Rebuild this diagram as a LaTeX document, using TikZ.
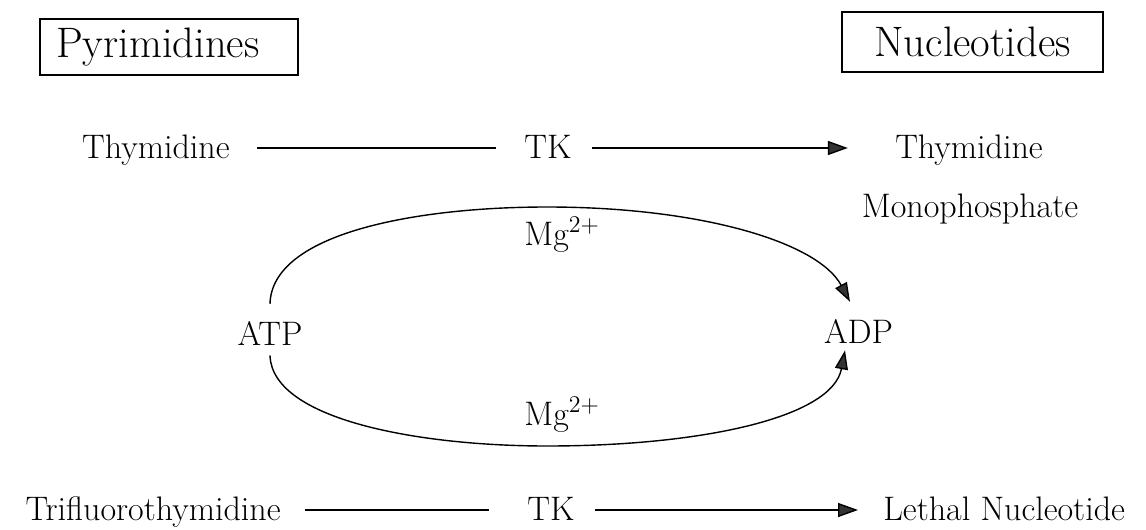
\documentclass[tikz,border=0pt]{standalone}
\usetikzlibrary{arrows.meta}
\begin{document}
\begin{tikzpicture}[x=0.5pt,y=-0.5pt,
  lbl/.style={inner sep=0pt, font=\fontsize{17}{20}\selectfont},
  ttl/.style={draw, line width=0.7pt, font=\fontsize{21.3}{25}\selectfont, minimum height=28pt},
  conn/.style={line width=0.7pt},
  arr/.style={conn, -{Triangle[length=10pt,width=7pt,fill=black!80]}},
  carr/.style={conn, -{Triangle[length=9.5pt,width=6.5pt,fill=black!80]}}
]
\useasboundingbox (0,0) rectangle (1146,530);

% title boxes
\node[ttl, minimum width=129pt, text width=113pt, inner xsep=8pt, align=left] (pyr) at (169,47) {Pyrimidines};
\node[ttl, minimum width=130.5pt, minimum height=30pt] (nuc) at (972.5,42) {Nucleotides};

% top row
\node[lbl, anchor=base east] (thy) at (230,158) {Thymidine};
\node[lbl, anchor=base west] (tk1) at (524,158) {TK};
\node[lbl, anchor=base] (thyr) at (969,158) {Thymidine};
\node[lbl, anchor=base] (mono) at (970,217) {Monophosphate};
\draw[conn] ([xshift=13.5pt,yshift=5pt]thy.base east) -- ([xshift=-14pt,yshift=5pt]tk1.base west);
\draw[arr] ([xshift=10pt,yshift=5pt]tk1.base east) -- ([xshift=-23.5pt,yshift=5pt]thyr.base west);

% cycle
\node[lbl, anchor=base] (atp) at (270,345) {ATP};
\node[lbl, anchor=base] (adp) at (858.5,343) {ADP};
\node[lbl, anchor=base west] (mg1) at (524,245) {Mg$^{2+}$};
\node[lbl, anchor=base west] (mg2) at (524,425) {Mg$^{2+}$};
\coordinate (top) at (547,207);
\coordinate (bot) at (547,446);
\draw[carr] ([yshift=8.4pt]atp.north) .. controls (272,232) and (420,207) .. (top)
  .. controls (700,207) and (818,242) .. ([xshift=-4.25pt,yshift=8.4pt]adp.north);
\draw[carr] ([yshift=-5pt]atp.south) .. controls (272,420) and (420,446) .. (bot)
  .. controls (700,446) and (832,418) .. ([xshift=-6.75pt,yshift=-3.5pt]adp.south);

% bottom row
\node[lbl, anchor=base east] (tri) at (281,520) {Trifluorothymidine};
\node[lbl, anchor=base west] (tk2) at (527,520) {TK};
\node[lbl, anchor=base west] (leth) at (883,520) {Lethal\ Nucleotide};
\draw[conn] ([xshift=12pt,yshift=5pt]tri.base east) -- ([xshift=-19pt,yshift=5pt]tk2.base west);
\draw[arr] ([xshift=10pt,yshift=5pt]tk2.base east) -- ([xshift=-12.5pt,yshift=5pt]leth.base west);
\end{tikzpicture}
\end{document}
